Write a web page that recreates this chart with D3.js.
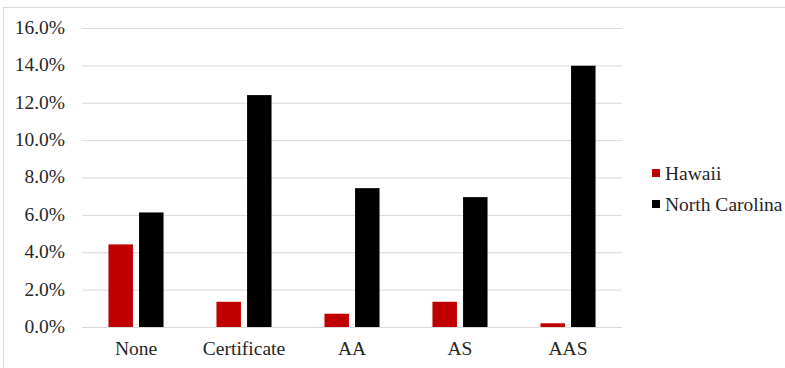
<!DOCTYPE html>
<html>
<head>
<meta charset="utf-8">
<script src="https://cdn.jsdelivr.net/npm/d3@7"></script>
<style>
  body { margin: 0; background: #fff; }
</style>
</head>
<body>
<div class="canvas"></div>
<script>
// chart data
const categories = ["None", "Certificate", "AA", "AS", "AAS"];
const seriesNames = ["Hawaii", "North Carolina"];
const hawaii = [4.42, 1.35, 0.71, 1.35, 0.2];
const northCarolina = [6.13, 12.41, 7.43, 6.95, 13.98];
const yTicks = [0, 2, 4, 6, 8, 10, 12, 14, 16];
const colors = ["#c00000", "#000000"];

const dims = { width: 785, height: 368 };
const plot = { left: 82, right: 622, top: 28, bottom: 327 };
const serif = '"Liberation Serif"';
const fontSize = "19.5px";
const textColor = "#262626";

const svg = d3
  .select(".canvas")
  .append("svg")
  .attr("width", dims.width)
  .attr("height", dims.height);

// outer frame
svg
  .append("rect")
  .attr("x", 3.5)
  .attr("y", 7.5)
  .attr("width", 800)
  .attr("height", 400)
  .attr("fill", "none")
  .attr("stroke", "#d9d9d9");

const y = d3.scaleLinear().domain([0, 16]).range([plot.bottom, plot.top]);

const x0 = d3
  .scaleBand()
  .domain(categories)
  .range([plot.left, plot.right])
  .paddingInner(0.49)
  .paddingOuter(0.245);

const x1 = d3
  .scaleBand()
  .domain(seriesNames)
  .range([0, x0.bandwidth()])
  .paddingInner(0.2);

const color = d3.scaleOrdinal().domain(seriesNames).range(colors);

// gridlines + y labels
const yAxis = d3
  .axisLeft(y)
  .tickValues(yTicks)
  .tickSize(-(plot.right - plot.left))
  .tickFormat((d) => d.toFixed(1) + "%");

svg
  .append("g")
  .attr("transform", `translate(${plot.left}, 0)`)
  .call(yAxis)
  .call((g) => g.select(".domain").remove())
  .call((g) => g.selectAll("line").attr("stroke", "#d9d9d9"))
  .call((g) =>
    g
      .selectAll("text")
      .attr("x", -17)
      .attr("dy", "0.28em")
      .style("font-family", serif)
      .style("font-size", fontSize)
      .attr("fill", textColor)
  );

// bars
const rows = categories.map((c, i) => ({
  cat: c,
  values: [
    { name: seriesNames[0], value: hawaii[i] },
    { name: seriesNames[1], value: northCarolina[i] },
  ],
}));

const groups = svg
  .selectAll("g.cat")
  .data(rows)
  .enter()
  .append("g")
  .attr("class", "cat")
  .attr("transform", (d) => `translate(${x0(d.cat)}, 0)`);

groups
  .selectAll("rect")
  .data((d) => d.values)
  .enter()
  .append("rect")
  .attr("x", (d) => x1(d.name))
  .attr("y", (d) => y(d.value))
  .attr("width", x1.bandwidth())
  .attr("height", (d) => y(0) - y(d.value))
  .attr("fill", (d) => color(d.name));

// x labels
svg
  .append("g")
  .selectAll("text")
  .data(categories)
  .enter()
  .append("text")
  .attr("x", (d) => x0(d) + x0.bandwidth() / 2)
  .attr("y", 355)
  .attr("text-anchor", "middle")
  .attr("fill", textColor)
  .style("font-family", serif)
  .style("font-size", fontSize)
  .text((d) => d);

// legend
const legend = svg
  .append("g")
  .selectAll("g")
  .data(seriesNames)
  .enter()
  .append("g")
  .attr("transform", (d, i) => `translate(652, ${169 + i * 31})`);

legend
  .append("rect")
  .attr("width", 8)
  .attr("height", 8)
  .attr("fill", (d) => color(d));

legend
  .append("text")
  .attr("x", 13)
  .attr("y", 10.5)
  .attr("fill", textColor)
  .style("font-family", serif)
  .style("font-size", fontSize)
  .text((d) => d);
</script>
</body>
</html>
